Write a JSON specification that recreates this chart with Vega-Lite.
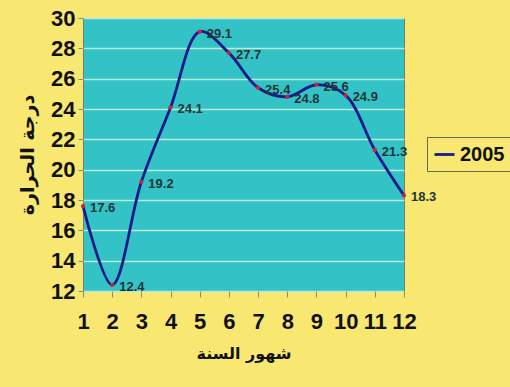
{
  "$schema": "https://vega.github.io/schema/vega-lite/v6.json",
  "autosize": {"type": "none"},
  "width": 321,
  "height": 273,
  "padding": {"left": 83, "top": 18, "right": 106, "bottom": 96},
  "background": "#f8e872",
  "config": {
    "view": {"fill": "#33c3c6", "stroke": "#6f7f6a", "strokeWidth": 1},
    "axis": {"labelFont": "Liberation Sans", "labelFontWeight": "bold", "labelColor": "#111111", "titleColor": "#111111", "titleFont": "DejaVu Sans", "titleFontWeight": "bold"}
  },
  "data": {
    "values": [
      {"month": 1, "temp": 17.6, "year": "2005"},
      {"month": 2, "temp": 12.4, "year": "2005"},
      {"month": 3, "temp": 19.2, "year": "2005"},
      {"month": 4, "temp": 24.1, "year": "2005"},
      {"month": 5, "temp": 29.1, "year": "2005"},
      {"month": 6, "temp": 27.7, "year": "2005"},
      {"month": 7, "temp": 25.4, "year": "2005"},
      {"month": 8, "temp": 24.8, "year": "2005"},
      {"month": 9, "temp": 25.6, "year": "2005"},
      {"month": 10, "temp": 24.9, "year": "2005"},
      {"month": 11, "temp": 21.3, "year": "2005"},
      {"month": 12, "temp": 18.3, "year": "2005"}
    ]
  },
  "encoding": {
    "x": {
      "field": "month", "type": "quantitative",
      "scale": {"domain": [1, 12], "nice": false, "zero": false},
      "axis": {"title": "شهور السنة", "values": [1,2,3,4,5,6,7,8,9,10,11,12], "grid": false, "domain": false, "tickColor": "#8a8a7a", "tickSize": 6, "labelPadding": 14, "labelFontSize": 22, "titleFontSize": 16, "titlePadding": 13, "labelFlush": false}
    },
    "y": {
      "field": "temp", "type": "quantitative",
      "scale": {"domain": [12, 30], "nice": false, "zero": false},
      "axis": {"title": "درجة الحرارة", "values": [12,14,16,18,20,22,24,26,28,30], "grid": true, "gridColor": "#b8ecd6", "gridWidth": 1.5, "domain": false, "tickColor": "#8a8a7a", "tickSize": 5, "labelPadding": 3, "labelFontSize": 22, "titleFontSize": 19, "titlePadding": 13, "labelFlush": false}
    }
  },
  "layer": [
    {
      "mark": {"type": "line", "interpolate": "catmull-rom", "strokeWidth": 2.8},
      "encoding": {
        "color": {
          "field": "year", "type": "nominal",
          "scale": {"range": ["#1a1a8a"]},
          "legend": {"title": null, "orient": "none", "legendX": 344, "legendY": 119, "symbolType": "stroke", "symbolStrokeWidth": 2.8, "symbolSize": 400, "labelFontSize": 20, "labelFont": "Liberation Sans", "labelFontWeight": "bold", "labelColor": "#111111", "padding": 6, "strokeColor": "#6a6a50", "fillColor": "#f8e872"}
        }
      }
    },
    {
      "mark": {"type": "point", "filled": true, "color": "#d0203a", "size": 18, "opacity": 1}
    },
    {
      "mark": {"type": "text", "align": "left", "baseline": "middle", "dx": 7, "dy": 2, "fontSize": 13, "fontWeight": "bold", "font": "Liberation Sans", "color": "#1f3535"},
      "encoding": {"text": {"field": "temp", "type": "quantitative", "format": ".1f"}}
    }
  ]
}
